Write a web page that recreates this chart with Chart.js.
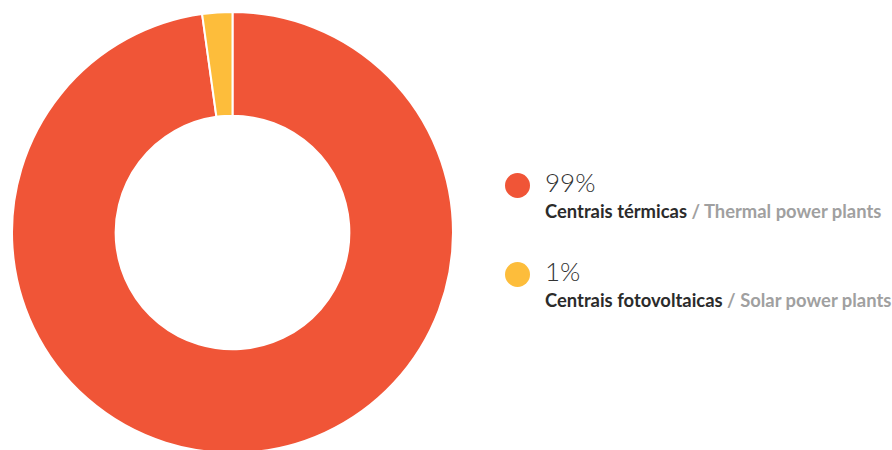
<!DOCTYPE html>
<html>
<head>
<meta charset="utf-8">
<script src="https://cdn.jsdelivr.net/npm/chart.js@4"></script>
<style>
  html, body { margin:0; padding:0; width:892px; height:450px; overflow:hidden; background:#fff; }
  #wrap { position:absolute; left:11px; top:11px; width:443px; height:443px; }
  #legend { position:absolute; left:505px; top:167px; font-family: Lato, "Open Sans", sans-serif; }
  .item { position:relative; padding-left:40px; height:89px; }
  .dot { position:absolute; left:0; top:6px; width:25px; height:25px; border-radius:50%; }
  .pct { font-size:26px; font-weight:300; color:#333; line-height:30px; }
  .lab { font-size:18.4px; font-weight:700; color:#2b2b2b; line-height:22px; margin-top:3px; white-space:nowrap; }
  .lab .en { color:#a0a0a0; }
</style>
</head>
<body>
<div id="wrap"><canvas id="c"></canvas></div>
<div id="legend"></div>
<script>
const categoriesPt = ["Centrais térmicas", "Centrais fotovoltaicas"];
const categoriesEn = ["Thermal power plants", "Solar power plants"];
const percentLabels = ["99%", "1%"];
const sliceValues = [97.8, 2.2];
const sliceColors = ["#F05537", "#FDBD3B"];

new Chart(document.getElementById('c'), {
  type: 'doughnut',
  data: {
    labels: categoriesPt,
    datasets: [{
      data: sliceValues,
      backgroundColor: sliceColors,
      borderColor: '#ffffff',
      borderWidth: 2,
      hoverOffset: 0
    }]
  },
  options: {
    responsive: true,
    maintainAspectRatio: false,
    animation: false,
    cutout: '53%',
    layout: { padding: 0 },
    plugins: { legend: { display: false }, tooltip: { enabled: false } }
  }
});

const legend = document.getElementById('legend');
categoriesPt.forEach((c, i) => {
  const item = document.createElement('div');
  item.className = 'item';
  item.innerHTML = '<span class="dot" style="background:' + sliceColors[i] + '"></span>' +
    '<div class="pct">' + percentLabels[i] + '</div>' +
    '<div class="lab">' + c + ' <span class="en">/ ' + categoriesEn[i] + '</span></div>';
  legend.appendChild(item);
});
</script>
</body>
</html>
